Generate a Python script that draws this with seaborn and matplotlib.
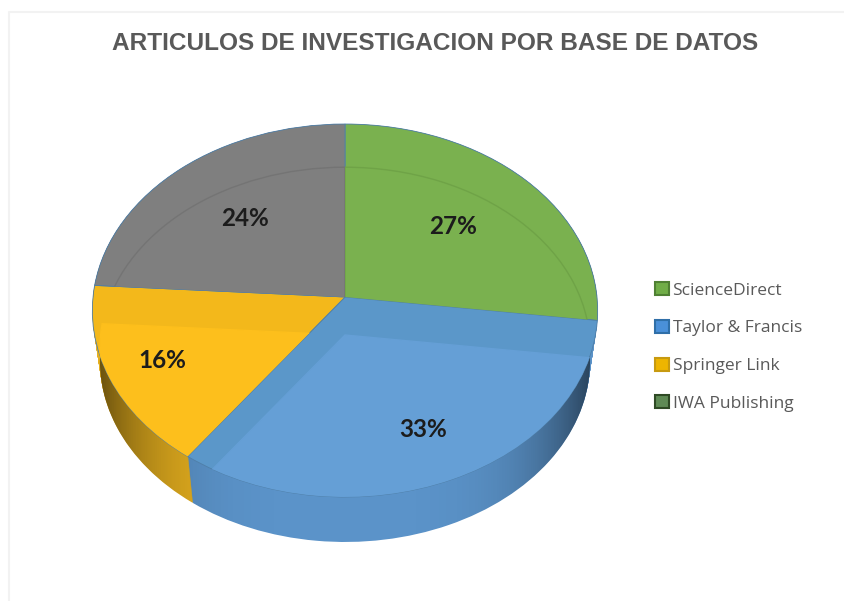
import numpy as np
import seaborn as sns
import matplotlib.pyplot as plt
from matplotlib.patches import Patch
from matplotlib.path import Path
from matplotlib.transforms import Transform

categories = ["ScienceDirect", "Taylor & Francis", "Springer Link", "IWA Publishing"]
shares = [27, 33, 16, 24]
label_radius = [0.59, 0.74, 0.78, 0.6]

top_colors = ["#7ab14f", "#5b97c9", "#f3b81b", "#7f7f7f"]
floor_colors = ["#7ab14f", "#659fd6", "#fdbf1c", "#7f7f7f"]
floor_edges = ["#6fa347", "#659fd6", "#fdbf1c", "#747474"]
side_colors = ["#5f8a3d", "#5b93c9", "#e6b01f", "#666666"]
legend_faces = ["#70ad47", "#4a90d9", "#eeb500", "#5f8a55"]
legend_edges = ["#4f8033", "#2f6fa8", "#c79a10", "#2f4a25"]


class Tilt(Transform):
    # tipped disc with some perspective, unit pie coords -> pixels
    input_dims = 2
    output_dims = 2

    def __init__(self, scale=1.0, dy=0.0):
        super().__init__()
        self.scale = scale
        self.dy = dy

    def transform_non_affine(self, values):
        u, v = values[:, 0], values[:, 1]
        d = 1 + 0.0724 * v
        x = 345 + self.scale * 252 * u / d
        y = 297 + self.dy - self.scale * 185.5 * v / d
        return np.column_stack([x, y])


def draw_pie(ax, colors, tilt, zorder, radius=1.0):
    wedges, _ = ax.pie(shares, colors=colors, startangle=90, counterclock=False, radius=radius)
    for w in wedges:
        w.set_transform(tilt + ax.transData)
        w.set_zorder(zorder)
    return wedges


sns.set_theme(style="white")
fig, ax = plt.subplots(figsize=(8.45, 6.01), dpi=100)
fig.subplots_adjust(0, 0, 1, 1)

# side wall: the pie repeated downwards, shrinking a little with distance
for f in np.linspace(1, 0, 52):
    for w in draw_pie(ax, side_colors, Tilt(1 - 0.03 * f, 51 * f), 1):
        w.set_linewidth(0)

# darker towards both ends of the wall
alpha = np.abs(np.linspace(-1, 1, 256)) ** 4 * 0.6
shade = np.zeros((1, 256, 4))
shade[0, :, 3] = alpha
img = ax.imshow(shade, extent=(92, 598, 560, 100), aspect="auto", zorder=2)
t = np.linspace(0, np.pi, 120)
upper = Tilt().transform_non_affine(np.column_stack([np.cos(t), np.sin(t)]))
lower = Tilt(0.97, 51).transform_non_affine(np.column_stack([np.cos(t + np.pi), np.sin(t + np.pi)]))
img.set_clip_path(Path(np.vstack([upper, lower, upper[:1]]), closed=True), ax.transData)

# top face and the recessed floor inside each slice
top = draw_pie(ax, top_colors, Tilt(), 3)
for w in top:
    w.set_edgecolor("#4f7fa8")
    w.set_linewidth(0.6)
floor = draw_pie(ax, floor_colors, Tilt(0.97, 38), 4)
for w, base, edge in zip(floor, top, floor_edges):
    w.set_edgecolor(edge)
    w.set_linewidth(1.0)
    w.set_clip_on(True)  # pie turns clipping off
    w.set_clip_path(Tilt().transform_path(base.get_path()), ax.transData)

for w, r, v in zip(top, label_radius, shares):
    mid = np.deg2rad((w.theta1 + w.theta2) / 2)
    ax.text(r * np.cos(mid), r * np.sin(mid), f"{v}%", transform=Tilt() + ax.transData,
            ha="center", va="center", fontsize=17.5, fontweight="bold",
            family="Lato", color="#1c1c1c", zorder=5)

ax.set_aspect("auto")
ax.set_xlim(0, 845)
ax.set_ylim(601, 0)
ax.axis("off")

# faint frame of the pasted chart
ax.plot([9, 9, 845], [601, 12, 12], color="#f2f2f2", lw=1.5)

fig.text(435 / 845, 1 - 43 / 601, "ARTICULOS DE INVESTIGACION POR BASE DE DATOS",
         ha="center", va="center", fontsize=17.6, fontweight="bold",
         family="Liberation Sans", color="#595959")

handles = [Patch(facecolor=f, edgecolor=e, linewidth=1.5, label=c)
           for f, e, c in zip(legend_faces, legend_edges, categories)]
ax.legend(handles=handles, loc="center left", bbox_to_anchor=(639 / 845, 1 - 347 / 601),
          bbox_transform=fig.transFigure, frameon=False, handlelength=0.8, handleheight=0.8,
          handletextpad=0.23, labelspacing=1.21, labelcolor="#595959",
          prop={"family": "Open Sans", "size": 12.5})

fig.savefig("out.png", dpi=100)
plt.close(fig)
